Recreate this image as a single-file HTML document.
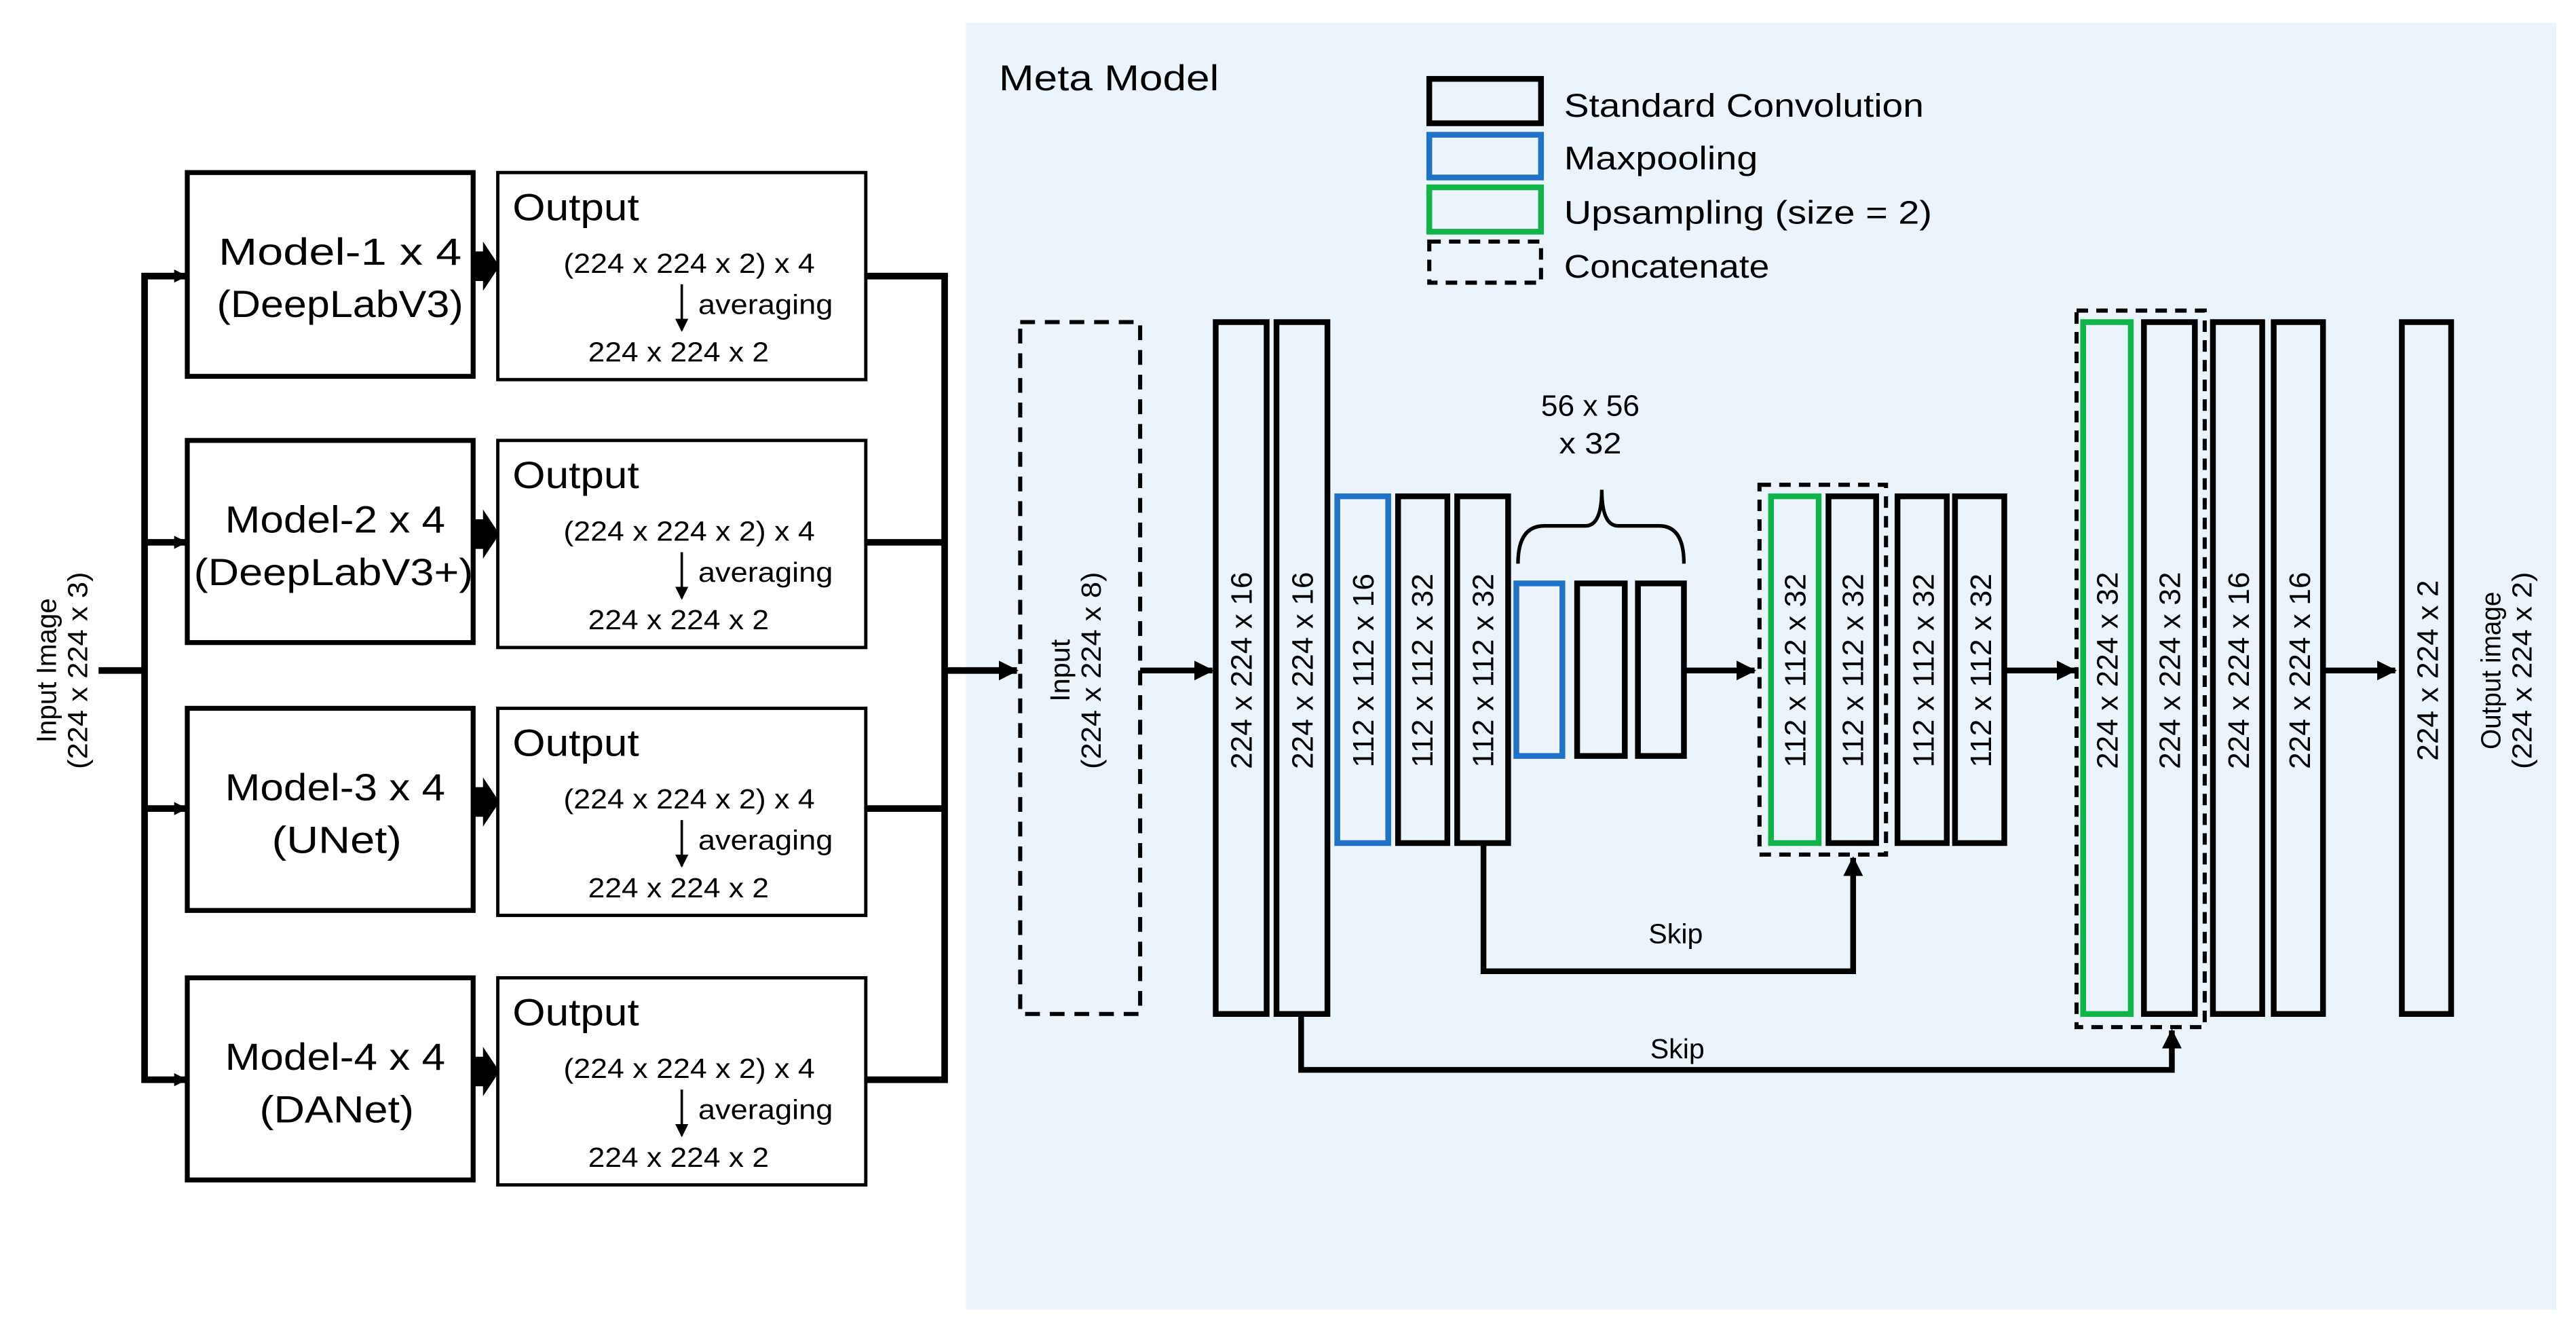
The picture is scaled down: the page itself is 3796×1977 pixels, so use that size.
<!DOCTYPE html>
<html><head><meta charset="utf-8"><style>
html,body{margin:0;padding:0;background:#fff;}
svg{display:block;}
text{font-family:"Liberation Sans",sans-serif;fill:#000;}
</style></head><body>
<svg width="3796" height="1977" viewBox="0 0 1568 816.6" preserveAspectRatio="none" xmlns="http://www.w3.org/2000/svg">
<defs>
<marker id="a" markerWidth="8" markerHeight="8" refX="7" refY="4" orient="auto" markerUnits="userSpaceOnUse"><path d="M0,0 L8,4 L0,8 z" fill="#000"/></marker>
<marker id="s" markerWidth="12" markerHeight="12" refX="11" refY="6" orient="auto" markerUnits="userSpaceOnUse"><path d="M0,0 L12,6 L0,12 z" fill="#000"/></marker>
</defs>
<rect x="588" y="14" width="968" height="783" fill="#eaf4fa"/>
<text x="608" y="55" font-size="22" textLength="134" lengthAdjust="spacingAndGlyphs">Meta Model</text>
<!-- legend -->
<rect x="870" y="48" width="68" height="27" fill="none" stroke="#000" stroke-width="3.5"/>
<rect x="870" y="82" width="68" height="26" fill="none" stroke="#1f72c8" stroke-width="3.5"/>
<rect x="870" y="114" width="68" height="27" fill="none" stroke="#10b44a" stroke-width="3.5"/>
<rect x="870" y="147" width="68" height="25" fill="none" stroke="#000" stroke-width="2.5" stroke-dasharray="7,5"/>
<g font-size="20" lengthAdjust="spacingAndGlyphs">
<text x="952" y="71" textLength="219" lengthAdjust="spacingAndGlyphs">Standard Convolution</text>
<text x="952" y="103" textLength="118" lengthAdjust="spacingAndGlyphs">Maxpooling</text>
<text x="952" y="136" textLength="224" lengthAdjust="spacingAndGlyphs">Upsampling  (size = 2)</text>
<text x="952" y="169" textLength="125" lengthAdjust="spacingAndGlyphs">Concatenate</text>
</g>
<!-- input image -->
<g transform="translate(40,408) rotate(-90)"><text x="0" y="-6" font-size="17" text-anchor="middle" textLength="88" lengthAdjust="spacingAndGlyphs">Input Image</text><text x="0" y="13" font-size="17" text-anchor="middle" textLength="120" lengthAdjust="spacingAndGlyphs">(224 x 224 x 3)</text></g>
<g stroke="#000" stroke-width="4" fill="none">
<line x1="60" y1="408" x2="88" y2="408"/>
<line x1="88" y1="166" x2="88" y2="659"/>
<line x1="88" y1="168" x2="113" y2="168" marker-end="url(#a)"/>
<line x1="88" y1="330" x2="113" y2="330" marker-end="url(#a)"/>
<line x1="88" y1="492" x2="113" y2="492" marker-end="url(#a)"/>
<line x1="88" y1="657" x2="113" y2="657" marker-end="url(#a)"/>
<polyline points="527,168 575,168 575,657 527,657"/>
<line x1="527" y1="330" x2="575" y2="330"/>
<line x1="527" y1="492" x2="575" y2="492"/>
<line x1="575" y1="408" x2="619" y2="408" marker-end="url(#s)"/>
</g>
<!-- model rows -->
<g font-size="23" text-anchor="middle">
<rect x="114" y="105" width="174" height="124" fill="#fff" stroke="#000" stroke-width="3"/>
<text x="207" y="161" textLength="148" lengthAdjust="spacingAndGlyphs">Model-1 x 4</text><text x="207" y="193" textLength="150" lengthAdjust="spacingAndGlyphs">(DeepLabV3)</text>
<rect x="114" y="268" width="174" height="123" fill="#fff" stroke="#000" stroke-width="3"/>
<text x="204" y="324" textLength="134" lengthAdjust="spacingAndGlyphs">Model-2 x 4</text><text x="203" y="356" textLength="170" lengthAdjust="spacingAndGlyphs">(DeepLabV3+)</text>
<rect x="114" y="431" width="174" height="123" fill="#fff" stroke="#000" stroke-width="3"/>
<text x="204" y="487" textLength="134" lengthAdjust="spacingAndGlyphs">Model-3 x 4</text><text x="205" y="519" textLength="79" lengthAdjust="spacingAndGlyphs">(UNet)</text>
<rect x="114" y="595" width="174" height="123" fill="#fff" stroke="#000" stroke-width="3"/>
<text x="204" y="651" textLength="134" lengthAdjust="spacingAndGlyphs">Model-4 x 4</text><text x="205" y="683" textLength="94" lengthAdjust="spacingAndGlyphs">(DANet)</text>
</g>
<g>
<path d="M288,153 L294,153 L294,147 L304,162 L294,177 L294,171 L288,171 z" fill="#000"/>
<path d="M288,316 L294,316 L294,310 L304,325 L294,340 L294,334 L288,334 z" fill="#000"/>
<path d="M288,479 L294,479 L294,473 L304,488 L294,503 L294,497 L288,497 z" fill="#000"/>
<path d="M288,643 L294,643 L294,637 L304,652 L294,667 L294,661 L288,661 z" fill="#000"/>
</g>
<g id="o1">
<rect x="303" y="105" width="224" height="126" fill="#fff" stroke="#000" stroke-width="2"/>
<text x="312" y="134" font-size="23" textLength="77" lengthAdjust="spacingAndGlyphs">Output</text>
<text x="343" y="166" font-size="17" textLength="153" lengthAdjust="spacingAndGlyphs">(224 x 224 x 2) x 4</text>
<line x1="415" y1="173" x2="415" y2="201" stroke="#000" stroke-width="1.5" marker-end="url(#a)"/>
<text x="425" y="191" font-size="17" textLength="82" lengthAdjust="spacingAndGlyphs">averaging</text>
<text x="358" y="220" font-size="17" textLength="110" lengthAdjust="spacingAndGlyphs">224 x 224 x 2</text>
</g>
<use href="#o1" transform="translate(0,163)"/>
<use href="#o1" transform="translate(0,326)"/>
<use href="#o1" transform="translate(0,490)"/>
<!-- meta input -->
<rect x="621" y="196" width="73" height="421" fill="none" stroke="#000" stroke-width="2.5" stroke-dasharray="9,6"/>
<g transform="translate(657,408) rotate(-90)"><text x="0" y="-6" font-size="17" text-anchor="middle" textLength="38" lengthAdjust="spacingAndGlyphs">Input</text><text x="0" y="13" font-size="17" text-anchor="middle" textLength="120" lengthAdjust="spacingAndGlyphs">(224 x 224 x 8)</text></g>
<g stroke="#000" stroke-width="3.5" fill="none">
<line x1="694" y1="408" x2="738" y2="408" marker-end="url(#s)"/>
<line x1="1025" y1="408" x2="1068" y2="408" marker-end="url(#s)"/>
<line x1="1220" y1="408" x2="1263" y2="408" marker-end="url(#s)"/>
<line x1="1414" y1="408" x2="1458" y2="408" marker-end="url(#s)"/>
<polyline points="903,513 903,591 1128,591 1128,522" marker-end="url(#s)"/>
<polyline points="792,617 792,651 1322,651 1322,627" marker-end="url(#s)"/>
</g>
<text x="1020" y="574" font-size="17" text-anchor="middle">Skip</text>
<text x="1021" y="644" font-size="17" text-anchor="middle">Skip</text>
<!-- dashed concat -->
<rect x="1071" y="295" width="77" height="225" fill="none" stroke="#000" stroke-width="2.5" stroke-dasharray="7,5"/>
<rect x="1264" y="189" width="78" height="436" fill="none" stroke="#000" stroke-width="2.5" stroke-dasharray="7,5"/>
<!-- bars -->
<g fill="none" stroke-width="3.5">
<rect x="740" y="196" width="31" height="421" stroke="#000"/>
<rect x="777" y="196" width="31" height="421" stroke="#000"/>
<rect x="814" y="302" width="31" height="211" stroke="#1f72c8"/>
<rect x="851" y="302" width="30" height="211" stroke="#000"/>
<rect x="887" y="302" width="31" height="211" stroke="#000"/>
<rect x="923" y="355" width="28" height="105" stroke="#1f72c8"/>
<rect x="960" y="355" width="29" height="105" stroke="#000"/>
<rect x="997" y="355" width="28" height="105" stroke="#000"/>
<rect x="1078" y="302" width="29" height="211" stroke="#10b44a"/>
<rect x="1113" y="302" width="29" height="211" stroke="#000"/>
<rect x="1155" y="302" width="30" height="211" stroke="#000"/>
<rect x="1190" y="302" width="30" height="211" stroke="#000"/>
<rect x="1268" y="196" width="29" height="421" stroke="#10b44a"/>
<rect x="1305" y="196" width="31" height="421" stroke="#000"/>
<rect x="1347" y="196" width="30" height="421" stroke="#000"/>
<rect x="1384" y="196" width="30" height="421" stroke="#000"/>
<rect x="1462" y="196" width="30" height="421" stroke="#000"/>
</g>
<path d="M924,343 Q924,320 940,320 L965,320 Q975,320 975,298 Q975,320 985,320 L1010,320 Q1025,320 1025,343" fill="none" stroke="#000" stroke-width="2.2"/>
<text x="968" y="253" font-size="18" text-anchor="middle" textLength="60" lengthAdjust="spacingAndGlyphs">56 x 56</text>
<text x="968" y="276" font-size="18" text-anchor="middle" textLength="38" lengthAdjust="spacingAndGlyphs">x 32</text>
<g font-size="18" text-anchor="middle">
<text transform="translate(762,408) rotate(-90)" textLength="120" lengthAdjust="spacingAndGlyphs">224 x 224 x 16</text>
<text transform="translate(799,408) rotate(-90)" textLength="120" lengthAdjust="spacingAndGlyphs">224 x 224 x 16</text>
<text transform="translate(836,408) rotate(-90)" textLength="118" lengthAdjust="spacingAndGlyphs">112 x 112 x 16</text>
<text transform="translate(872,408) rotate(-90)" textLength="118" lengthAdjust="spacingAndGlyphs">112 x 112 x 32</text>
<text transform="translate(909,408) rotate(-90)" textLength="118" lengthAdjust="spacingAndGlyphs">112 x 112 x 32</text>
<text transform="translate(1099,408) rotate(-90)" textLength="118" lengthAdjust="spacingAndGlyphs">112 x 112 x 32</text>
<text transform="translate(1134,408) rotate(-90)" textLength="118" lengthAdjust="spacingAndGlyphs">112 x 112 x 32</text>
<text transform="translate(1177,408) rotate(-90)" textLength="118" lengthAdjust="spacingAndGlyphs">112 x 112 x 32</text>
<text transform="translate(1212,408) rotate(-90)" textLength="118" lengthAdjust="spacingAndGlyphs">112 x 112 x 32</text>
<text transform="translate(1289,408) rotate(-90)" textLength="120" lengthAdjust="spacingAndGlyphs">224 x 224 x 32</text>
<text transform="translate(1327,408) rotate(-90)" textLength="120" lengthAdjust="spacingAndGlyphs">224 x 224 x 32</text>
<text transform="translate(1369,408) rotate(-90)" textLength="120" lengthAdjust="spacingAndGlyphs">224 x 224 x 16</text>
<text transform="translate(1406,408) rotate(-90)" textLength="120" lengthAdjust="spacingAndGlyphs">224 x 224 x 16</text>
<text transform="translate(1484,408) rotate(-90)" textLength="110" lengthAdjust="spacingAndGlyphs">224 x 224 x 2</text>
</g>
<g transform="translate(1528,408) rotate(-90)"><text x="0" y="-6" font-size="17" text-anchor="middle" textLength="96" lengthAdjust="spacingAndGlyphs">Output image</text><text x="0" y="13" font-size="17" text-anchor="middle" textLength="120" lengthAdjust="spacingAndGlyphs">(224 x 224 x 2)</text></g>
</svg>
</body></html>
